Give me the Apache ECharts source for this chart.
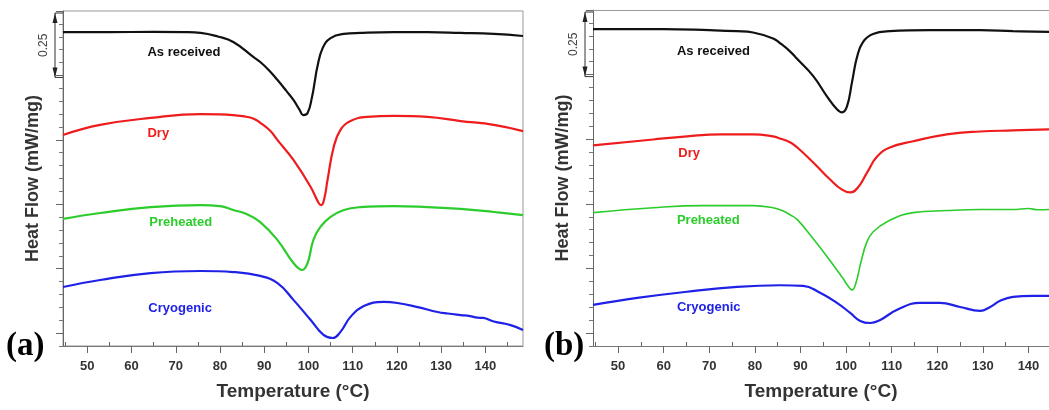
<!DOCTYPE html>
<html>
<head>
<meta charset="utf-8">
<script src="https://cdn.jsdelivr.net/npm/echarts@6/dist/echarts.min.js"></script>
<style>
  html, body { margin: 0; padding: 0; background: #fff; }
  #main { width: 1049px; height: 410px; }
</style>
</head>
<body>
<div id="main"></div>
<script>
// DSC heat flow curves, (a) and (b)
const curveNames = ['As received', 'Dry', 'Preheated', 'Cryogenic'];
const curveColors = ['#111111', '#ee1c1c', '#2ccc2c', '#1f22e6'];

const tempMin = 44.5;
const tempMaxA = 148.5;
const tempMaxB = 144.5; // panel (b) is cut at the picture edge
const tempTicks = [50, 60, 70, 80, 90, 100, 110, 120, 130, 140];
const tempMinorTicks = [45, 55, 65, 75, 85, 95, 105, 115, 125, 135, 145];
const flowMajorTicks = [0.05, 0.30, 0.55, 0.80, 1.05, 1.30];
const scaleBar = [1.05, 1.30]; // 0.25 mW/mg

// panel (a)  [temperature, heat flow offset]
const asReceivedA = [[44.5,1.218],[55,1.218],[65,1.219],[72,1.218],[75.6,1.215],[79.5,1.201],[83,1.180],[87.6,1.121],[89.1,1.102],[91,1.071],[93,1.032],[95,0.990],[96.6,0.955],[98,0.916],[98.8,0.896],[99.8,0.904],[100.8,0.966],[101.4,1.024],[102,1.083],[103.2,1.156],[105,1.195],[108,1.211],[111.8,1.215],[119.3,1.218],[126.9,1.218],[134.4,1.215],[141.9,1.211],[148.5,1.203]];
const dryA = [[44.5,0.819],[52.9,0.858],[64.3,0.885],[75.6,0.900],[80,0.899],[83,0.896],[85.5,0.891],[87.6,0.882],[89.1,0.866],[91.4,0.834],[93,0.799],[96.6,0.722],[100.5,0.617],[102.3,0.555],[102.9,0.547],[103.6,0.574],[104.3,0.644],[105.7,0.772],[107.2,0.838],[109.5,0.873],[113.3,0.889],[119.3,0.893],[126.9,0.889],[134.4,0.873],[141.9,0.858],[148.5,0.834]];
const preheatedA = [[44.5,0.493],[52.9,0.516],[64.3,0.539],[75.6,0.547],[80,0.543],[83,0.528],[86,0.512],[89.1,0.481],[93,0.411],[96.6,0.322],[98.6,0.295],[99.8,0.322],[101.1,0.411],[102.7,0.462],[105,0.501],[108,0.528],[111.8,0.539],[119.3,0.543],[126.9,0.539],[134.4,0.532],[141.9,0.520],[148.5,0.508]];
const cryogenicA = [[44.5,0.229],[52.9,0.256],[64.3,0.283],[75.6,0.291],[83,0.287],[89.1,0.272],[93,0.244],[96.6,0.179],[100.5,0.101],[103.4,0.043],[105.5,0.031],[107.2,0.054],[109.5,0.113],[112.5,0.155],[117,0.171],[120.1,0.167],[124.7,0.151],[129.2,0.132],[131.5,0.126],[134.4,0.120],[136.5,0.116],[138.2,0.110],[139.5,0.109],[141.9,0.095],[145.7,0.081],[148.5,0.062]];

// panel (b)
const asReceivedB = [[44.5,1.226],[60,1.226],[70,1.222],[76.1,1.218],[79.6,1.213],[84,1.190],[85.5,1.172],[87.7,1.140],[89.3,1.110],[92.8,1.044],[95.8,0.966],[98,0.916],[99.1,0.904],[100.2,0.927],[101.3,1.021],[102.4,1.118],[103.7,1.176],[105.9,1.207],[109.6,1.218],[118.4,1.222],[129.4,1.222],[136.6,1.218],[144.5,1.215]];
const dryB = [[44.5,0.776],[57.7,0.799],[65.1,0.811],[72.4,0.819],[79.6,0.819],[84,0.811],[85.5,0.803],[87.7,0.788],[89.3,0.768],[92.8,0.710],[96.5,0.644],[99.1,0.605],[100.9,0.594],[102.6,0.613],[104.6,0.671],[106.8,0.733],[109.6,0.768],[114.7,0.792],[122.1,0.819],[129.4,0.830],[136.6,0.834],[144.5,0.838]];
const preheatedB = [[44.5,0.516],[57.7,0.535],[68.6,0.543],[79.6,0.543],[84,0.535],[86,0.524],[87.7,0.508],[89.3,0.489],[92.8,0.415],[96.5,0.330],[99.3,0.262],[100.6,0.228],[101.3,0.217],[102.1,0.240],[103.2,0.320],[104.5,0.400],[105.9,0.441],[109,0.481],[114.7,0.516],[122.1,0.524],[129.4,0.528],[136.6,0.528],[140,0.532],[142,0.527],[144.5,0.528]];
const cryogenicB = [[44.5,0.159],[54.2,0.186],[65.1,0.210],[76.1,0.229],[85.5,0.235],[90.6,0.233],[94.3,0.206],[98,0.167],[100.9,0.128],[103.1,0.097],[105.3,0.089],[107.5,0.101],[111.2,0.140],[116.2,0.167],[120.6,0.167],[125,0.151],[129.4,0.136],[131.5,0.150],[133.8,0.175],[136.6,0.190],[141,0.194],[144.5,0.194]];

// where the curve names sit
const labelPosA = [[63.6,1.141],[63.6,0.823],[64.0,0.481],[63.8,0.147]];
const labelPosB = [[62.9,1.141],[63.2,0.745],[62.9,0.485],[62.9,0.151]];

const chart = echarts.init(document.getElementById('main'), null, { renderer: 'canvas' });
const font = "'Liberation Sans', Arial, sans-serif";
const maxOf = [tempMaxA, tempMaxB];

function mainX(grid) {
  return {
    type: 'value', gridIndex: grid, min: tempMin, max: maxOf[grid],
    name: 'Temperature (°C)', nameLocation: 'middle', nameGap: 36,
    nameTextStyle: { fontFamily: font, fontSize: 19, fontWeight: 'bold', color: '#333' },
    axisLine: { show: true, lineStyle: { color: '#777', width: 1 } },
    axisTick: { show: true, length: 7, customValues: tempTicks, lineStyle: { color: '#666' } },
    axisLabel: { customValues: tempTicks, margin: 14, fontFamily: font, fontSize: 13,
      fontWeight: 'bold', color: '#333' },
    splitLine: { show: false }
  };
}
function minorX(grid) {
  return {
    type: 'value', gridIndex: grid, min: tempMin, max: maxOf[grid],
    axisLine: { show: false },
    axisTick: { show: true, length: 4, customValues: tempMinorTicks.filter(t => t < maxOf[grid]), lineStyle: { color: '#666' } },
    axisLabel: { show: false }, splitLine: { show: false }
  };
}
function topX(grid) {
  return {
    type: 'value', gridIndex: grid, min: tempMin, max: maxOf[grid], position: 'top',
    axisLine: { show: true, lineStyle: { color: '#999', width: 1 } },
    axisTick: { show: false }, axisLabel: { show: false }, splitLine: { show: false }
  };
}
function mainY(grid) {
  return {
    type: 'value', gridIndex: grid, min: 0, max: 1.3, interval: 0.05,
    name: 'Heat Flow (mW/mg)', nameLocation: 'middle', nameGap: 21,
    nameTextStyle: { fontFamily: font, fontSize: 18, fontWeight: 'bold', color: '#333' },
    axisLine: { show: true, lineStyle: { color: '#666', width: 1 } },
    axisTick: { show: true, length: 4, lineStyle: { color: '#777' } },
    axisLabel: { show: false }, splitLine: { show: false }
  };
}
function majorY(grid) {
  return {
    type: 'value', gridIndex: grid, min: 0, max: 1.3, position: 'left',
    axisLine: { show: false },
    axisTick: { show: true, length: 7, customValues: flowMajorTicks, lineStyle: { color: '#666' } },
    axisLabel: { show: false }, splitLine: { show: false }
  };
}

const panels = [
  [asReceivedA, dryA, preheatedA, cryogenicA],
  [asReceivedB, dryB, preheatedB, cryogenicB]
];
const labelPos = [labelPosA, labelPosB];

const series = [];
panels.forEach((curves, p) => {
  curves.forEach((data, i) => {
    series.push({
      type: 'line', name: curveNames[i] + (p ? ' (b)' : ' (a)'),
      xAxisIndex: p * 2, yAxisIndex: p * 2,
      data: data, smooth: 0.45, symbol: 'none',
      lineStyle: { color: curveColors[i], width: (p === 1 && i === 2) ? 1.6 : 2.2 },
      markPoint: {
        symbol: 'circle', symbolSize: 0, silent: true,
        data: [{ coord: labelPos[p][i] }],
        label: { show: true, position: 'right', distance: 0, formatter: curveNames[i],
          fontFamily: font, fontSize: 13, fontWeight: 'bold', color: curveColors[i] }
      }
    });
  });
});

chart.setOption({
  animation: false,
  backgroundColor: '#fff',
  grid: [
    { left: 63, width: 460, top: 11, height: 335, show: true, borderColor: '#999', borderWidth: 1 },
    { left: 593, right: 0, top: 10, height: 336, show: false }
  ],
  xAxis: [mainX(0), minorX(0), mainX(1), minorX(1), topX(1)],
  yAxis: [mainY(0), majorY(0), mainY(1), majorY(1)],
  series: series
});

// 0.25 scale bars and panel letters
const graphics = [];
[0, 1].forEach(p => {
  const axisX = chart.convertToPixel({ xAxisIndex: p * 2 }, tempMin);
  const yTop = chart.convertToPixel({ yAxisIndex: p * 2 }, scaleBar[1]) + 2;
  const yBot = chart.convertToPixel({ yAxisIndex: p * 2 }, scaleBar[0]) + 2;
  const bx = axisX - 8;
  const st = { stroke: '#333', lineWidth: 1 };
  graphics.push(
    { type: 'line', shape: { x1: bx, y1: yTop, x2: bx, y2: yBot }, style: st },
    { type: 'line', shape: { x1: bx, y1: yTop, x2: axisX, y2: yTop }, style: st },
    { type: 'line', shape: { x1: bx, y1: yBot, x2: axisX, y2: yBot }, style: st },
    { type: 'polygon', shape: { points: [[bx, yTop], [bx - 2.5, yTop + 10], [bx + 2.5, yTop + 10]] }, style: { fill: '#222' } },
    { type: 'polygon', shape: { points: [[bx, yBot], [bx - 2.5, yBot - 10], [bx + 2.5, yBot - 10]] }, style: { fill: '#222' } },
    { type: 'text', x: bx - 11, y: (yTop + yBot) / 2, rotation: Math.PI / 2,
      style: { text: '0.25', fontFamily: font, fontSize: 12, fill: '#444', align: 'center', verticalAlign: 'middle' } }
  );
});
graphics.push(
  { type: 'text', left: 6, top: 330, style: { text: '(a)', fontFamily: "'Liberation Serif', 'Times New Roman', serif", fontSize: 33, fontWeight: 'bold', fill: '#000' } },
  { type: 'text', left: 544, top: 330, style: { text: '(b)', fontFamily: "'Liberation Serif', 'Times New Roman', serif", fontSize: 33, fontWeight: 'bold', fill: '#000' } }
);
chart.setOption({ graphic: graphics });
</script>
</body>
</html>
